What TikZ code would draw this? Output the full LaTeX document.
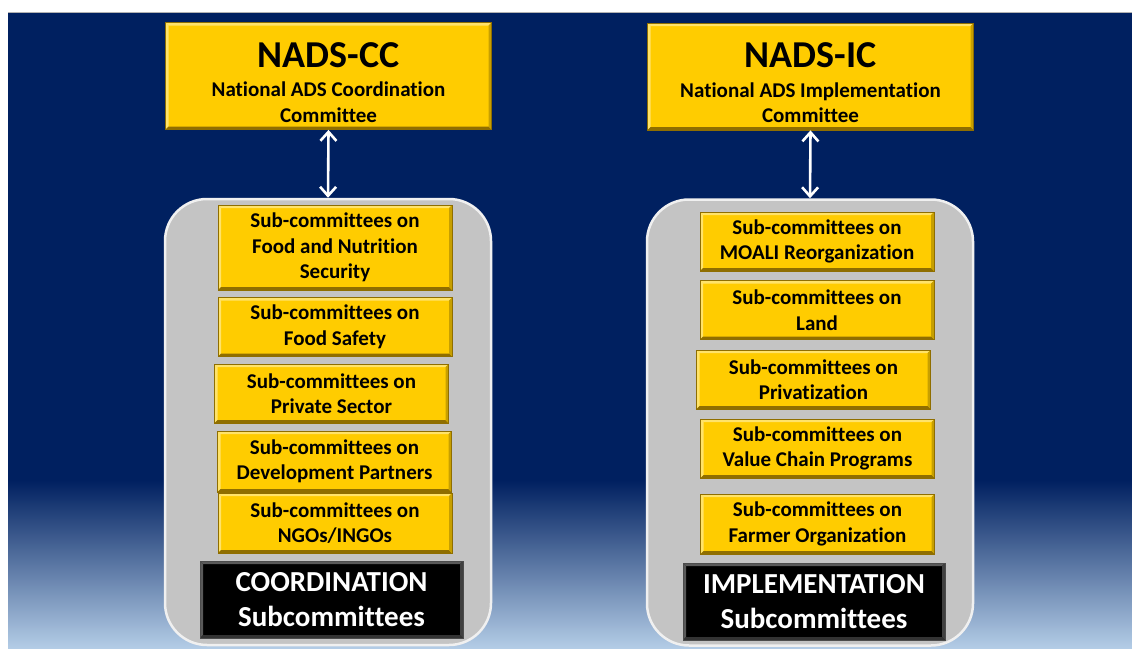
\documentclass[tikz,border=0pt]{standalone}
\usepackage{fontspec}
\setmainfont[Ligatures=NoCommon]{Carlito}
\usetikzlibrary{arrows.meta}

\definecolor{navy}{HTML}{002060}
\definecolor{skyfoot}{HTML}{B3CCE6}
\definecolor{gold}{HTML}{FFCC00}
\definecolor{golddark}{HTML}{8F6E00}
\definecolor{goldlight}{HTML}{FFE36A}
\definecolor{goldshade}{HTML}{C79F00}
\definecolor{panelgray}{HTML}{C4C4C4}

\tikzset{
  % raised look: light strip on top/left, dark strip on bottom/right
  bevel/.style n args={3}{path picture={
      \fill[#1] (path picture bounding box.north west) -- (path picture bounding box.north east)
        -- ([shift={(-3pt,-3pt)}]path picture bounding box.north east)
        -- ([shift={(3pt,-3pt)}]path picture bounding box.north west) -- cycle;
      \fill[#1] (path picture bounding box.north west) -- (path picture bounding box.south west)
        -- ([shift={(3pt,3pt)}]path picture bounding box.south west)
        -- ([shift={(3pt,-3pt)}]path picture bounding box.north west) -- cycle;
      \fill[#2] (path picture bounding box.south west) -- (path picture bounding box.south east)
        -- ([shift={(-3pt,3pt)}]path picture bounding box.south east)
        -- ([shift={(3pt,3pt)}]path picture bounding box.south west) -- cycle;
      \fill[#3] (path picture bounding box.north east) -- (path picture bounding box.south east)
        -- ([shift={(-3pt,3pt)}]path picture bounding box.south east)
        -- ([shift={(-3pt,-3pt)}]path picture bounding box.north east) -- cycle;
  }},
  headbox/.style={draw=golddark, line width=0.8pt, fill=gold, inner sep=0pt,
    minimum width=326pt, minimum height=107pt, align=center,
    font=\bfseries\fontsize{21}{25.5}\selectfont,
    bevel={goldlight}{golddark}{goldshade}},
  subbox/.style={draw=golddark, line width=0.8pt, fill=gold, inner sep=0pt,
    minimum width=234pt, minimum height=59pt, align=center,
    font=\bfseries\fontsize{21}{25.5}\selectfont,
    bevel={goldlight}{golddark}{goldshade}},
  tagbox/.style={draw=black!70, line width=0.8pt, fill=black, text=white, inner sep=0pt,
    minimum width=263pt, minimum height=77pt, align=center,
    font=\bfseries\fontsize{29}{35}\selectfont,
    bevel={black!65}{black!80}{black!75}},
  panel/.style={fill=panelgray, draw=white!75!panelgray, line width=2.5pt,
    rounded corners=42pt, minimum width=326pt, minimum height=446pt},
  link/.style={white, line width=2.6pt, {Straight Barb[length=9pt,width=16pt]}-{Straight Barb[length=9pt,width=16pt]}}
}
% big committee acronym, with a strut to push the block down a bit
\newcommand{\headline}[1]{{\fontsize{38}{40}\selectfont\rule{0pt}{38pt}#1}}

\begin{document}
\begin{tikzpicture}[x=1pt, y=-1pt]
  \useasboundingbox (0,0) rectangle (1132,648);
  % backdrop
  \fill[white] (0,0) rectangle (1132,648);
  \fill[navy] (8,12) rectangle (1132,481);
  \shade[top color=navy, bottom color=skyfoot] (8,480) rectangle (1132,648);
  \draw[gray!60, line width=0.8pt] (8,12) -- (1132,12);

  % coordination side
  \node[panel] (ccpanel) at (328,422) {};
  \node[headbox] (cc) at (328.5,76) {\headline{NADS-CC}\\[4pt]
    National ADS Coordination\\Committee};
  \draw[link] (cc.south) -- (ccpanel.north); % cc <-> panel
  \node[subbox, minimum height=85pt] (ccfood) at (335,247.5) {Sub-committees on\\Food and Nutrition\\Security};
  \node[subbox] (ccsafety) at (335,327) {Sub-committees on\\Food Safety};
  \node[subbox] (ccprivate) at (331.5,393.5) {Sub-committees on\\Private Sector};
  \node[subbox, minimum height=61pt] (ccpartners) at (334.5,461.5) {Sub-committees on\\Development Partners};
  \node[subbox, minimum height=60pt] (ccngo) at (335,523) {Sub-committees on\\NGOs/INGOs};
  \node[tagbox] (cctag) at (331.5,599.5) {COORDINATION\\Subcommittees};

  % implementation side
  \node[panel] (icpanel) at (810,422.5) {};
  \node[headbox] (ic) at (810.5,76.5) {\headline{NADS-IC}\\[4pt]
    National ADS Implementation\\Committee};
  \draw[link] (ic.south) -- (icpanel.north); % ic <-> panel
  \node[subbox] (icmoali) at (817,241.5) {Sub-committees on\\MOALI Reorganization};
  \node[subbox] (icland) at (817,310) {Sub-committees on\\Land};
  \node[subbox] (icpriv) at (813.5,379.5) {Sub-committees on\\Privatization};
  \node[subbox] (icvalue) at (817.5,448.5) {Sub-committees on\\Value Chain Programs};
  \node[subbox, minimum height=60pt] (icfarmer) at (817.5,524) {Sub-committees on\\Farmer Organization};
  \node[tagbox, minimum width=262pt] (ictag) at (814,601.5) {IMPLEMENTATION\\Subcommittees};
\end{tikzpicture}
\end{document}
